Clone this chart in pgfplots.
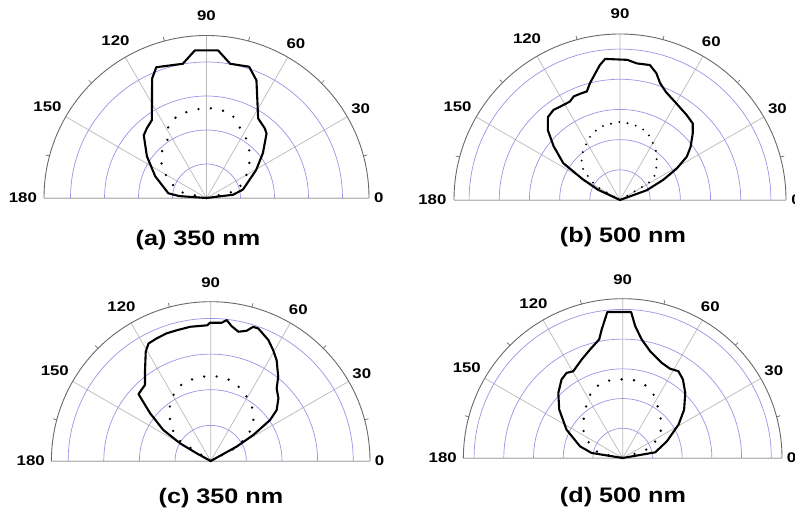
\documentclass[border=0pt]{standalone}
\usepackage{fontspec}
\setmainfont{Liberation Sans}
\newfontfamily\labfont[FakeStretch=1.2]{Liberation Sans}
\usepackage{pgfplots}
\pgfplotsset{compat=1.18}
\usepgfplotslibrary{polar}
\definecolor{ring}{RGB}{150,150,230}
\definecolor{spoke}{RGB}{185,185,185}
\definecolor{arcc}{RGB}{105,105,105}
\tikzset{
  lab/.style={font={\fontsize{14}{15}\selectfont\labfont\bfseries}, inner sep=0pt},
  captext/.style={font={\fontsize{21}{22}\selectfont\labfont\bfseries}, inner sep=0pt},
}
\pgfplotsset{
  halfpolar/.style={
    anchor=origin, scale only axis, axis equal image,
    xmin=0, xmax=180, ymin=0,
    xtick={0,30,...,180}, xticklabels={},
    minor xtick={15,45,...,165},
    yticklabels={},
    xmajorgrids, ymajorgrids,
    x grid style={spoke, line width=0.7pt},
    y grid style={ring, line width=0.7pt},
    separate axis lines,
    x axis line style={arcc, line width=0.9pt},
    y axis line style={spoke, line width=0.8pt},
    major tick length=0pt,
    minor tick length=4pt,
    minor tick style={arcc, line width=0.7pt},
    tick align=inside,
    clip=false,
  },
  solidc/.style={black, line width=2.1pt, line join=round, no marks},
  dotc/.style={black, line width=2.6pt, line cap=round, dash pattern=on 0pt off 12.5pt, no marks},
}
\newcommand{\anglabels}[1]{%
  \node[lab] at (axis cs:0,{1.06*#1}) {0};
  \node[lab] at (axis cs:30,{1.095*#1}) {30};
  \node[lab] at (axis cs:60,{1.10*#1}) {60};
  \node[lab] at (axis cs:90,{1.12*#1}) {90};
  \node[lab] at (axis cs:120,{1.12*#1}) {120};
  \node[lab] at (axis cs:150,{1.13*#1}) {150};
  \node[lab] at (axis cs:180,{1.13*#1}) {180};
}
\begin{document}
\begin{tikzpicture}[x=1pt,y=1pt]
\path[use as bounding box] (0,0) rectangle (795,514);

% (a)
\begin{polaraxis}[halfpolar, at={(206.5pt,316pt)}, width=325pt, height=325pt,
  ymax=4.78, ytick={1,2,3,4}]
\addplot[solidc] coordinates {(0,0) (7,0.79) (13,1.10) (29.5,1.68) (38.5,2.12) (47,2.59) (50,2.67) (57,2.79) (67,3.76) (72,4.06) (80,4.01) (85.5,4.355) (94.5,4.355) (100,4.01) (111,4.12) (114.5,3.86) (125,2.80) (130.5,2.70) (135,2.61) (145,2.14) (157,1.64) (173,1.13) (176,0.80) (180,0)};
\addplot[dotc] coordinates {(0,0) (13,0.92) (27,1.29) (38,1.60) (47,1.86) (57,2.12) (73,2.57) (82,2.64) (90,2.65) (99,2.62) (109,2.58) (118,2.40) (123,2.08) (135,1.88) (144,1.63) (154,1.27) (167,0.83) (180,0)};
\anglabels{4.78}
\end{polaraxis}
\node[captext] at (198,274) {(a) 350 nm};

% (b)
\begin{polaraxis}[halfpolar, at={(620pt,314pt)}, width=332pt, height=332pt,
  ymax=5.50, ytick={1,2,3,4,5}]
\addplot[solidc] coordinates {(0,0) (20,0.94) (25,1.58) (29,2.15) (33,2.64) (37,2.93) (42.5,3.27) (46.5,3.50) (52,3.58) (60,3.71) (67,3.89) (71,4.09) (74,4.37) (77.5,4.58) (83,4.56) (87,4.65) (96,4.70) (98.5,4.52) (101,4.28) (104.5,3.99) (107,3.76) (110,3.76) (114,3.76) (117,3.66) (122,3.67) (126.5,3.71) (131,3.64) (136,3.32) (141,2.83) (147,2.24) (151,1.40) (155,0.80) (180,0)};
\addplot[dotc, line width=2.1pt, dash pattern=on 0pt off 8.5pt] coordinates {(0,0) (30.5,1.09) (35.5,1.43) (43.7,1.68) (51.8,1.97) (62.2,2.25) (68.7,2.43) (76,2.51) (82.5,2.54) (88.8,2.60) (95,2.55) (101.3,2.54) (108.4,2.45) (115.3,2.32) (126.3,2.06) (133.8,1.84) (139.7,1.62) (144.8,1.24) (150.3,0.89) (180,0)};
\anglabels{5.50}
\end{polaraxis}
\node[captext] at (623,277) {(b) 500 nm};

% (c)
\begin{polaraxis}[halfpolar, at={(210.7pt,53pt)}, width=318.6pt, height=318.6pt,
  ymax=4.47, ytick={1,2,3,4}]
\addplot[solidc] coordinates {(0,0) (29,0.83) (31.4,1.40) (34.6,2.02) (37.7,2.34) (42.8,2.59) (47.7,2.75) (51.3,3.03) (56.8,3.38) (60.6,3.57) (64.5,3.76) (70.2,3.95) (72.4,3.95) (74.6,3.79) (77.9,3.71) (81.2,3.83) (83.5,3.98) (85.5,3.89) (90.3,3.88) (91.4,3.81) (98.7,3.81) (104.5,3.79) (109,3.79) (113.8,3.76) (117.9,3.73) (120.7,3.57) (125.8,3.15) (130.8,2.82) (133.9,2.79) (137.2,2.76) (141.8,2.16) (146.8,1.59) (150,0.99) (151.3,0.45) (180,0)};
\addplot[dotc] coordinates {(0,0) (27.7,0.82) (34.6,1.28) (41.9,1.61) (50.1,1.86) (58.6,2.03) (66.6,2.19) (75.3,2.33) (83.7,2.38) (92.2,2.39) (100.7,2.36) (109.2,2.33) (117.2,2.19) (125.2,1.98) (132.6,1.71) (140,1.43) (147,1.08) (180,0)};
\anglabels{4.47}
\end{polaraxis}
\node[captext] at (221,16) {(c) 350 nm};

% (d)
\begin{polaraxis}[halfpolar, at={(622.7pt,56pt)}, width=318.6pt, height=318.6pt,
  ymax=5.36, ytick={1,2,3,4,5}]
\addplot[solidc] coordinates {(0,0) (9.9,1.11) (20.7,1.59) (30.9,2.19) (38.2,2.63) (46.2,3.04) (52.5,3.33) (57.3,3.47) (62,3.40) (67.7,3.46) (75.6,3.71) (80.9,4.04) (84.6,4.46) (86.7,4.92) (96,4.94) (99.3,4.38) (101.2,4.07) (106.8,3.81) (112.6,3.59) (119.7,3.36) (123.4,3.43) (127.9,3.35) (134.7,3.08) (142.6,2.69) (153.2,2.12) (164.7,1.49) (170.8,1.06) (180,0)};
\addplot[dotc] coordinates {(0,0) (19.5,0.98) (31.6,1.48) (41.6,1.76) (53.4,2.02) (62.2,2.34) (73,2.57) (82.2,2.65) (91.9,2.65) (101.7,2.65) (112.8,2.55) (121.1,2.28) (130.6,1.98) (143.4,1.68) (153.4,1.36) (169.1,0.83) (180,0)};
\anglabels{5.36}
\end{polaraxis}
\node[captext] at (623,17) {(d) 500 nm};
\end{tikzpicture}
\end{document}
